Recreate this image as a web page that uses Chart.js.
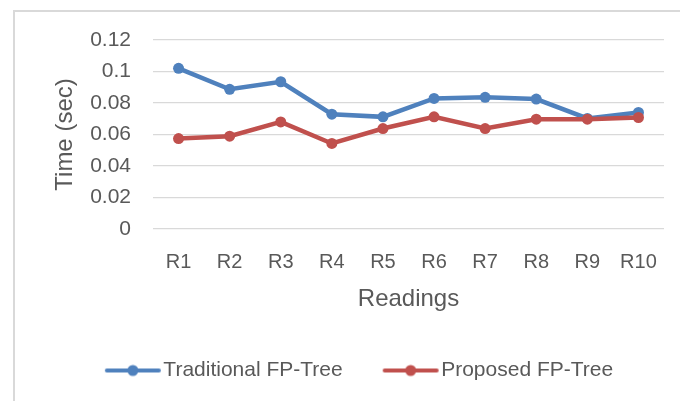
<!DOCTYPE html>
<html>
<head>
<meta charset="utf-8">
<script src="https://cdn.jsdelivr.net/npm/chart.js@4/dist/chart.umd.min.js"></script>
<style>
  body { margin: 0; background: #fff; }
  #frame { position: absolute; left: 13px; top: 10px; width: 680px; height: 400px;
           border-left: 2px solid #d9d9d9; border-top: 2px solid #d9d9d9; }
  #wrap { position: absolute; left: 0; top: 0; width: 680px; height: 401px; }
</style>
</head>
<body>
<div id="frame"></div>
<div id="wrap"><canvas id="myChart"></canvas></div>
<script>
// chart data
var readings = ["R1", "R2", "R3", "R4", "R5", "R6", "R7", "R8", "R9", "R10"];
var traditional = [0.102, 0.0887, 0.0935, 0.0729, 0.0712, 0.0829, 0.0836, 0.0825, 0.0702, 0.074];
var proposed = [0.0574, 0.0589, 0.068, 0.0543, 0.0638, 0.0712, 0.0638, 0.0697, 0.0697, 0.0708];
var yTicks = ["0", "0.02", "0.04", "0.06", "0.08", "0.1", "0.12"];

var blue = "#4f81bd";
var red = "#c0504d";
var grey = "#595959";
var fontFam = "'Liberation Sans', Arial, sans-serif";

// legend marker: short line with a dot in the middle (blank space on the left
// so the line sits close to its text)
var marker = function(color) {
  var c = document.createElement('canvas');
  c.width = 70;
  c.height = 14;
  var ctx = c.getContext('2d');
  ctx.strokeStyle = color;
  ctx.lineWidth = 4;
  ctx.lineCap = 'round';
  ctx.beginPath();
  ctx.moveTo(15, 7);
  ctx.lineTo(67, 7);
  ctx.stroke();
  ctx.fillStyle = color;
  ctx.beginPath();
  ctx.arc(41, 7, 5.5, 0, Math.PI * 2);
  ctx.fill();
  return c;
};
var markers = [marker(blue), marker(red)];

var chart = new Chart(document.getElementById("myChart"), {
  type: 'line',
  data: {
    labels: readings,
    datasets: [{
      label: "Traditional FP-Tree",
      data: traditional,
      borderColor: blue,
      backgroundColor: blue,
      order: 1
    }, {
      label: "Proposed FP-Tree",
      data: proposed,
      borderColor: red,
      backgroundColor: red,
      order: 0
    }]
  },
  options: {
    responsive: true,
    maintainAspectRatio: false,
    animation: false,
    devicePixelRatio: 1,
    layout: { padding: { left: 50, top: 40, right: 16, bottom: 10 } },
    elements: {
      line: { borderWidth: 4.5, tension: 0 },
      point: { radius: 5.5, borderWidth: 0, hoverRadius: 5.5 }
    },
    plugins: {
      tooltip: { enabled: false },
      legend: {
        position: 'bottom',
        labels: {
          color: grey,
          font: { family: fontFam, size: 21 },
          usePointStyle: true,
          pointStyleWidth: 52,
          padding: 36,
          generateLabels: function(c) {
            return c.data.datasets.map(function(ds, i) {
              return {
                text: ds.label,
                fillStyle: ds.borderColor,
                strokeStyle: ds.borderColor,
                lineWidth: 0,
                pointStyle: markers[i],
                fontColor: grey,
                datasetIndex: i
              };
            });
          }
        }
      }
    },
    scales: {
      x: {
        offset: true,
        grid: { display: false },
        border: { display: false },
        ticks: { color: grey, font: { family: fontFam, size: 20 }, padding: 13, maxRotation: 0 },
        title: {
          display: true,
          text: "Readings",
          color: grey,
          font: { family: fontFam, size: 24 },
          padding: { top: 0, bottom: 10 }
        },
        afterFit: function(scale) { scale.height = 95; }
      },
      y: {
        min: 0,
        max: 0.12,
        grid: { color: "#d9d9d9", lineWidth: 1.3, drawTicks: false },
        border: { display: false },
        ticks: {
          stepSize: 0.02,
          autoSkip: false,
          color: grey,
          font: { family: fontFam, size: 21 },
          padding: 22,
          callback: function(v, i) { return yTicks[i]; }
        },
        title: {
          display: true,
          text: "Time (sec)",
          color: grey,
          font: { family: fontFam, size: 24 },
          padding: { top: 1, bottom: 0 }
        },
        afterFit: function(scale) { scale.width = 103; }
      }
    }
  }
});
</script>
</body>
</html>
